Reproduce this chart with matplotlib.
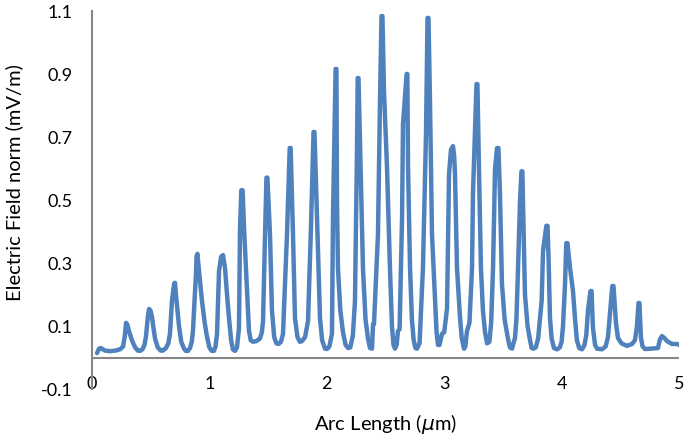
import numpy as np
import matplotlib.pyplot as plt

# points (arc length in um, field in mV/m)
arc_length = [
    0.043, 0.060, 0.077, 0.110, 0.153, 0.200, 0.239, 0.265, 0.280,
    0.290, 0.300, 0.315, 0.340, 0.366, 0.390, 0.409, 0.430, 0.447,
    0.460, 0.476, 0.486, 0.497, 0.511, 0.525, 0.537, 0.560, 0.585, 0.605, 0.630, 0.650,
    0.664, 0.681, 0.700, 0.707, 0.716, 0.741, 0.760, 0.784, 0.800, 0.818, 0.835, 0.850,
    0.860, 0.876, 0.886, 0.890, 0.898, 0.910, 0.937, 0.960, 0.980, 1.000, 1.020, 1.039, 1.052,
    1.065, 1.082, 1.100, 1.116, 1.133, 1.150, 1.167, 1.185, 1.200, 1.218, 1.235,
    1.252, 1.261, 1.272, 1.283, 1.295, 1.320, 1.337, 1.352, 1.371, 1.400, 1.430, 1.447,
    1.457, 1.474, 1.486, 1.494, 1.516, 1.533, 1.552, 1.570, 1.590, 1.610,
    1.627, 1.661, 1.684, 1.692, 1.712, 1.729, 1.750, 1.770, 1.789, 1.815,
    1.840, 1.865, 1.887, 1.895, 1.917, 1.942, 1.960, 1.985, 2.002, 2.022,
    2.044, 2.053, 2.075, 2.082, 2.087, 2.095, 2.115, 2.138, 2.160, 2.181, 2.200, 2.222,
    2.240, 2.257, 2.263, 2.270, 2.283, 2.308, 2.330, 2.351, 2.368, 2.385, 2.394, 2.402,
    2.436, 2.453, 2.466, 2.474, 2.487, 2.513, 2.538, 2.555, 2.568, 2.581, 2.595, 2.606, 2.620,
    2.641, 2.649, 2.680, 2.686, 2.692, 2.709, 2.725, 2.740, 2.755, 2.768, 2.790,
    2.819, 2.845, 2.858, 2.866, 2.879, 2.896, 2.922, 2.935, 2.947, 2.960, 2.981, 3.000,
    3.024, 3.041, 3.058, 3.075, 3.085, 3.092, 3.109, 3.135, 3.150, 3.169, 3.180, 3.194, 3.215,
    3.237, 3.245, 3.275, 3.283, 3.296, 3.313, 3.330, 3.348, 3.365, 3.385, 3.400,
    3.416, 3.433, 3.450, 3.462, 3.475, 3.492, 3.515, 3.543, 3.560, 3.578, 3.590, 3.603, 3.615,
    3.629, 3.646, 3.658, 3.666, 3.671, 3.688, 3.710, 3.731, 3.745, 3.760, 3.780, 3.800,
    3.830, 3.842, 3.870, 3.880, 3.890, 3.901, 3.915, 3.935, 3.961, 3.985, 4.000,
    4.012, 4.029, 4.040, 4.050, 4.072, 4.097, 4.114, 4.130, 4.150, 4.174, 4.195, 4.210,
    4.225, 4.246, 4.255, 4.267, 4.285, 4.302, 4.344, 4.375, 4.395,
    4.412, 4.432, 4.442, 4.463, 4.480, 4.510, 4.557, 4.600, 4.625,
    4.642, 4.655, 4.663, 4.676, 4.690, 4.710, 4.760, 4.821,
    4.838, 4.855, 4.875, 4.898, 4.940, 4.983, 5.000,
]
field = [
    0.014, 0.028, 0.030, 0.022, 0.020, 0.022, 0.026, 0.035, 0.070,
    0.110, 0.105, 0.084, 0.055, 0.033, 0.022, 0.021, 0.026, 0.040,
    0.068, 0.130, 0.154, 0.150, 0.129, 0.090, 0.060, 0.032, 0.022, 0.022, 0.030, 0.045,
    0.075, 0.179, 0.235, 0.237, 0.195, 0.100, 0.050, 0.028, 0.021, 0.021, 0.030, 0.050,
    0.084, 0.200, 0.265, 0.320, 0.329, 0.280, 0.179, 0.110, 0.065, 0.032, 0.021, 0.021, 0.035,
    0.075, 0.275, 0.320, 0.325, 0.284, 0.200, 0.125, 0.055, 0.026, 0.021, 0.032,
    0.094, 0.411, 0.531, 0.531, 0.411, 0.221, 0.085, 0.055, 0.050, 0.052, 0.060, 0.080,
    0.116, 0.392, 0.571, 0.571, 0.392, 0.148, 0.065, 0.045, 0.043, 0.050,
    0.075, 0.392, 0.665, 0.665, 0.392, 0.125, 0.065, 0.050, 0.052, 0.065,
    0.116, 0.411, 0.716, 0.716, 0.443, 0.125, 0.055, 0.028, 0.027, 0.035,
    0.075, 0.455, 0.916, 0.916, 0.497, 0.284, 0.150, 0.080, 0.040, 0.030, 0.032, 0.070,
    0.179, 0.656, 0.887, 0.887, 0.678, 0.284, 0.120, 0.060, 0.030, 0.028, 0.106, 0.106,
    0.392, 0.814, 1.084, 1.084, 0.846, 0.602, 0.284, 0.100, 0.040, 0.028, 0.040, 0.084, 0.090,
    0.443, 0.741, 0.900, 0.900, 0.602, 0.284, 0.120, 0.055, 0.030, 0.028, 0.045,
    0.284, 0.710, 1.078, 1.078, 0.814, 0.392, 0.179, 0.080, 0.040, 0.040, 0.075, 0.080,
    0.155, 0.582, 0.660, 0.671, 0.640, 0.582, 0.284, 0.125, 0.060, 0.028, 0.035, 0.084, 0.110,
    0.284, 0.519, 0.868, 0.868, 0.602, 0.284, 0.148, 0.080, 0.045, 0.050, 0.110,
    0.284, 0.600, 0.665, 0.665, 0.519, 0.234, 0.120, 0.060, 0.032, 0.028, 0.045, 0.062, 0.120,
    0.284, 0.497, 0.591, 0.591, 0.497, 0.200, 0.100, 0.055, 0.030, 0.028, 0.032, 0.060,
    0.180, 0.338, 0.418, 0.418, 0.300, 0.125, 0.060, 0.030, 0.026, 0.032, 0.050,
    0.100, 0.232, 0.363, 0.363, 0.284, 0.211, 0.125, 0.055, 0.030, 0.026, 0.040, 0.070,
    0.150, 0.211, 0.211, 0.094, 0.040, 0.028, 0.026, 0.035, 0.065,
    0.140, 0.227, 0.227, 0.110, 0.062, 0.045, 0.037, 0.043, 0.055,
    0.100, 0.173, 0.173, 0.062, 0.035, 0.027, 0.028, 0.030,
    0.058, 0.068, 0.062, 0.052, 0.043, 0.043, 0.040,
]

x_ticks = [0, 1, 2, 3, 4, 5]
y_ticks = [-0.1, 0.1, 0.3, 0.5, 0.7, 0.9, 1.1]
y_tick_labels = ['-0.1', '0.1', '0.3', '0.5', '0.7', '0.9', '1.1']

plt.rcParams['font.family'] = ['Lato', 'DejaVu Sans']

fig = plt.figure(figsize=(6.85, 4.36), dpi=100)
ax = fig.add_axes([92 / 685, 47 / 436, 587 / 685, 378 / 436])

ax.plot(arc_length, field, color='#4f81bd', lw=3.2,
        solid_joinstyle='round', solid_capstyle='round')
ax.axhline(0, color='#868686', lw=1.5, zorder=1)

ax.set_xlim(0, 5)
ax.set_ylim(-0.1, 1.1)
ax.set_xticks(x_ticks)
ax.set_yticks(y_ticks)
ax.set_yticklabels(y_tick_labels)

for s in ['top', 'right', 'bottom']:
    ax.spines[s].set_visible(False)
ax.spines['left'].set_color('#868686')
ax.spines['left'].set_linewidth(1.5)

ax.tick_params(axis='both', length=0, labelsize=13, colors='#000000')
ax.tick_params(axis='x', pad=-9.5)
ax.tick_params(axis='y', pad=14)

ax.set_xlabel(r'Arc Length ($\mu$m)', fontsize=14.5)
ax.xaxis.set_label_coords(0.5, -0.06)
ax.set_ylabel('Electric Field norm (mV/m)', fontsize=14.5)
ax.yaxis.set_label_coords(-0.118, 0.545)

fig.savefig('out.png', dpi=100)
